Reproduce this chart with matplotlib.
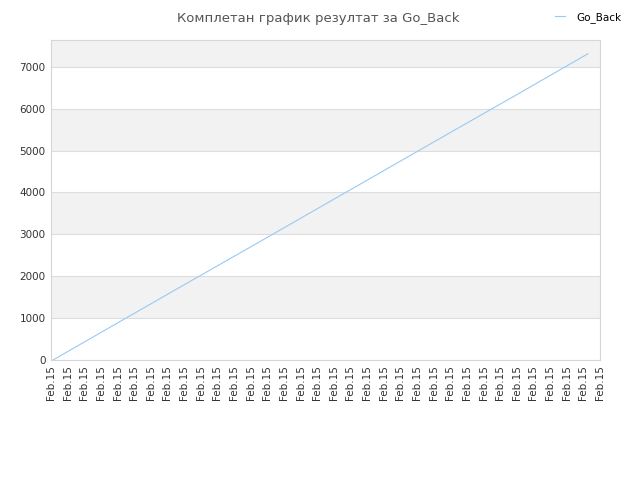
import matplotlib
matplotlib.use("Agg")
import matplotlib.pyplot as plt

# tick labels along the x axis (one per slot)
tick_labels = ["Feb.15"] * 34

# series (x in tick slots, y = value)
go_back_x = [0.12, 4, 8, 12, 16, 20, 24, 28, 32.27]
go_back_y = [0, 885, 1795, 2700, 3610, 4520, 5430, 6335, 7310]

y_ticks = [0, 1000, 2000, 3000, 4000, 5000, 6000, 7000]
y_top = 7640

fig = plt.figure(figsize=(6.4, 4.8), dpi=100)
ax = fig.add_axes([0.0797, 0.25, 0.8578, 0.6667])

# alternating bands
for i, lo in enumerate(y_ticks):
    hi = y_ticks[i + 1] if i + 1 < len(y_ticks) else y_top
    if i % 2 == 1:
        ax.axhspan(lo, hi, color="#f2f2f2", zorder=0, lw=0)
    elif hi == y_top:
        ax.axhspan(lo, hi, color="#eeeeee", zorder=0, lw=0)

for yv in y_ticks[1:]:
    ax.axhline(yv, color="#dddddd", lw=0.8, zorder=1)

ax.plot(go_back_x, go_back_y, color="#99c9f5", lw=0.8, label="Go_Back", zorder=3)

ax.set_xlim(0, len(tick_labels) - 1)
ax.set_ylim(0, y_top)
ax.set_xticks(range(len(tick_labels)))
ax.set_xticklabels(tick_labels, rotation=90, fontsize=7.5, color="#333333")
ax.set_yticks(y_ticks)
ax.set_yticklabels([str(v) for v in y_ticks], fontsize=7.5, color="#333333")
ax.tick_params(length=0, pad=4)
for s in ax.spines.values():
    s.set_color("#d6d6d6")
    s.set_linewidth(0.8)

fig.text(0.497, 0.975, "Комплетан график резултат за Go_Back", ha="center", va="top",
         fontsize=9.5, color="#555555")
fig.legend(loc="upper right", bbox_to_anchor=(0.985, 0.995), frameon=False, fontsize=7.5,
           handlelength=1.0, handletextpad=1.0)

fig.savefig("out.png", dpi=100)
